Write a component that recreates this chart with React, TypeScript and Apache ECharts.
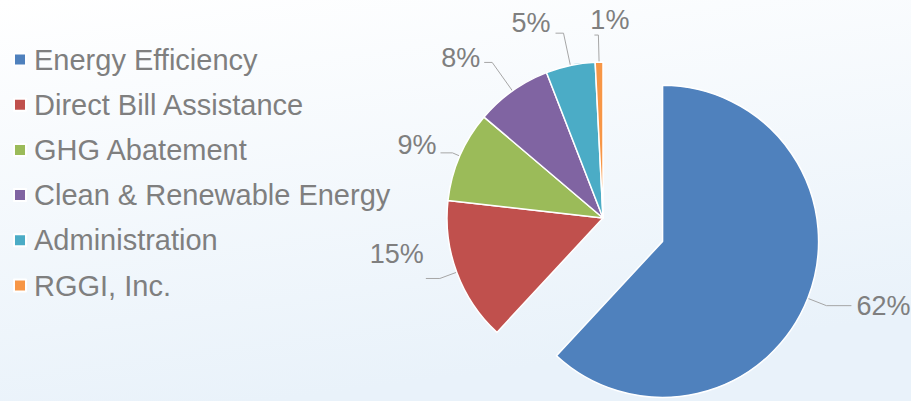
import React, { useEffect, useRef } from "react";
import * as echarts from "echarts";

const categories = [
  "Energy Efficiency",
  "Direct Bill Assistance",
  "GHG Abatement",
  "Clean & Renewable Energy",
  "Administration",
  "RGGI, Inc.",
];
const shares = [61.9, 14.9, 9.4, 7.9, 5.1, 0.8];
const colors = ["#4f81bd", "#c0504d", "#9bbb59", "#8064a2", "#4bacc6", "#f79646"];
// label leader line lengths per slice [radial, horizontal]
const leaderLengths = [
  [20, 25],
  [18, 14],
  [8, 12],
  [35, 8],
  [33, 8],
  [27, 4],
];
// small label nudges [dx, dy]
const labelNudges = [
  [0, 0],
  [3, -24],
  [1, -8],
  [1, -4],
  [0, -10],
  [40, -15],
];

export default function App() {
  const ref = useRef<HTMLDivElement>(null);
  useEffect(() => {
    document.body.style.margin = "0";
    const chart = echarts.init(ref.current!, null, { renderer: "svg" });
    chart.setOption({
      animation: false,
      backgroundColor: new echarts.graphic.LinearGradient(0, 0, 0.3, 1, [
        { offset: 0, color: "#ffffff" },
        { offset: 1, color: "#e9f2fa" },
      ]),
      color: colors,
      legend: {
        orient: "vertical",
        left: 13,
        top: 45,
        padding: 0,
        itemWidth: 12,
        itemHeight: 12,
        itemGap: 16.2,
        icon: "rect",
        selectedMode: false,
        textStyle: {
          fontFamily: "Liberation Sans, Arial, sans-serif",
          fontSize: 29,
          lineHeight: 29,
          color: "#7f7f7f",
          padding: [0, 0, 0, 3],
        },
        data: categories,
      },
      series: [
        {
          type: "pie",
          center: [603, 218],
          radius: 156,
          startAngle: 90,
          clockwise: true,
          avoidLabelOverlap: false,
          selectedMode: "single",
          selectedOffset: 64,
          percentPrecision: 1,
          itemStyle: { borderColor: "#ffffff", borderWidth: 1.5 },
          label: {
            show: true,
            fontFamily: "Liberation Sans, Arial, sans-serif",
            fontSize: 27,
            color: "#7f7f7f",
            formatter: (p: any) => Math.round(p.percent) + "%",
          },
          labelLine: {
            show: true,
            length: 18,
            length2: 22,
            lineStyle: { color: "#a6a6a6", width: 1 },
          },
          labelLayout: (p: any) => ({
            dx: labelNudges[p.dataIndex][0],
            dy: labelNudges[p.dataIndex][1],
            hideOverlap: false,
          }),
          emphasis: { disabled: true },
          data: categories.map((name, i) => ({
            name,
            value: shares[i],
            selected: i === 0,
            labelLine: { length: leaderLengths[i][0], length2: leaderLengths[i][1] },
          })),
        },
      ],
    });
    return () => chart.dispose();
  }, []);
  return <div ref={ref} style={{ width: 911, height: 401 }} />;
}
